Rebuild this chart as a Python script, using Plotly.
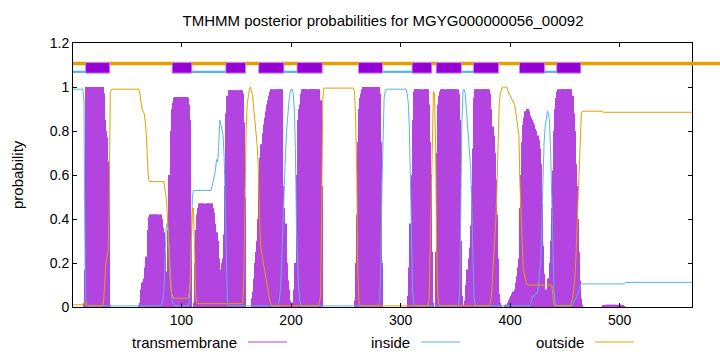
import plotly.graph_objects as go

# ---------------- data (per residue, 1..566) ----------------
title_text = "TMHMM posterior probabilities for MGYG000000056_00092"
seq_len = 566
residues = list(range(1, seq_len + 1))

transmembrane = [
    0, 0, 0, 0, 0, 0, 0, 0, 0, 0,                       # 1-10
    .02, .17, 1, 1, 1, 1, 1, 1, 1, 1,                   # 11-20
    1, 1, 1, 1, 1, 1, 1, 1, .97, .85,                   # 21-30
    .8, .77, .66, .64, .01, 0, 0, 0, 0, 0,              # 31-40
    0, 0, 0, 0, 0, 0, 0, 0, 0, 0,                       # 41-50
    0, 0, 0, 0, 0, 0, 0, 0, 0, 0,                       # 51-60
    .01, .02, .08, .11, .115, .13, .18, .23, .35, .41,  # 61-70
    .42, .42, .42, .42, .42, .42, .42, .42, .42, .42,   # 71-80
    .42, .4, .36, .34, .25, .16, .14, .35, .6, .8,      # 81-90
    .9, .93, .95, .955, .955, .955, .955, .955, .955, .955,  # 91-100
    .955, .955, .955, .955, .955, .95, .92, .85, .3, 0,      # 101-110
    .02, .2, .35, .42, .45, .47, .47, .47, .47, .47,    # 111-120
    .47, .47, .47, .47, .47, .47, .47, .47, .45, .43,   # 121-130
    .38, .34, .3, .22, .13, .17, .2, .22, .33, .55,     # 131-140
    .88, .96, .985, .985, .985, .985, .985, .985, .985, .985,  # 141-150
    .985, .985, .985, .985, .985, .97, .84, .5, 0, 0,   # 151-160
    0, 0, 0, .04, .07, .13, .2, .25, .3, .4,            # 161-170
    .58, .68, .74, .79, .83, .86, .89, .92, .94, .96,   # 171-180
    .98, .99, .99, .99, .99, .99, .99, .99, .99, .99,   # 181-190
    .99, .99, .55, .45, .38, .2, .12, .08, .03, .01,    # 191-200
    0, .02, .08, .2, .6, .85, .9, .92, .97, .99,        # 201-210
    .99, .99, .99, .99, .99, .99, .99, .99, .99, .99,   # 211-220
    .99, .99, .99, .99, .99, .99, .94, .55, 0, 0,       # 221-230
    0, 0, 0, 0, 0, 0, 0, 0, 0, 0,                       # 231-240
    0, 0, 0, 0, 0, 0, 0, 0, 0, 0,                       # 241-250
    0, 0, 0, 0, 0, 0, 0, .03, .2, .42,                  # 251-260
    .75, .9, .95, .97, .99, 1, 1, 1, 1, 1,              # 261-270
    1, 1, 1, 1, 1, 1, 1, 1, 1, 1,                       # 271-280
    .97, .75, .2, 0, 0, 0, 0, 0, 0, 0,                  # 281-290
    0, 0, 0, 0, 0, 0, 0, 0, 0, 0,                       # 291-300
    0, 0, 0, 0, 0, 0, .05, .18, .38, .6,                # 301-310
    .85, .98, .99, .99, .99, .99, .99, .99, .99, .99,   # 311-320
    .99, .99, .99, .99, .99, .92, .75, .6, .25, .02,    # 321-330
    0, .25, .7, .92, .96, .98, .99, .99, .99, .99,      # 331-340
    .99, .99, .99, .99, .99, .99, .99, .99, .99, .99,   # 341-350
    .99, .99, .97, .85, .3, .05, 0, .01, .03, .1,       # 351-360
    .17, .22, .27, .37, .55, .72, .95, .99, .99, .99,   # 361-370
    .99, .99, .99, .99, .99, .99, .99, .99, .99, .99,   # 371-380
    .99, .97, .9, .82, .78, .7, .58, .42, .22, .06,     # 381-390
    .02, .01, 0, 0, .01, .01, .01, .02, .03, .04,       # 391-400
    .05, .06, .07, .08, .11, .14, .18, .22, .45, .6,    # 401-410
    .75, .83, .86, .89, .9, .9, .89, .87, .86, .85,     # 411-420
    .84, .83, .81, .8, .78, .76, .72, .65, .47, .28,    # 421-430
    .15, .08, .04, .08, .13, .2, .3, .45, .62, .8,      # 431-440
    .9, .95, .98, .99, .99, .99, .99, .99, .99, .99,    # 441-450
    .99, .99, .99, .99, .99, .99, .96, .88, .8, .65,    # 451-460
    .55, .4, .25, .12, .04, .01, 0, 0, 0, 0,            # 461-470
    0, 0, 0, 0, 0, 0, 0, 0, 0, 0,                       # 471-480
    0, 0, 0, 0, .005, .008, .01, .01, .01, .01,         # 481-490
    .01, .01, .01, .01, .01, .01, .01, .01, .01, .01,   # 491-500
    .01, .008, .006, .004, 0, 0, 0, 0, 0, 0,            # 501-510
    0, 0, 0, 0, 0, 0, 0, 0, 0, 0,                       # 511-520
    0, 0, 0, 0, 0, 0, 0, 0, 0, 0,                       # 521-530
    0, 0, 0, 0, 0, 0, 0, 0, 0, 0,                       # 531-540
    0, 0, 0, 0, 0, 0, 0, 0, 0, 0,                       # 541-550
    0, 0, 0, 0, 0, 0, 0, 0, 0, 0,                       # 551-560
    0, 0, 0, 0, 0, 0,                                   # 561-566
]

inside = [
    .99, .99, .99, .99, .99, .99, .99, .99, .99, .99,   # 1-10
    .93, .2, .01, .005, .005, .005, .005, .005, .005, .005,  # 11-20
    .005, .005, .005, .005, .005, .005, .005, .005, .005, .005,  # 21-30
    .005, .005, .005, .005, .005, .005, .005, .005, .005, .005,  # 31-40
    .005, .005, .005, .005, .005, .005, .005, .005, .005, .005,  # 41-50
    .005, .005, .005, .005, .005, .005, .005, .005, .005, .005,  # 51-60
    .005, .005, .005, .005, .005, .005, .005, .005, .005, .005,  # 61-70
    .005, .005, .005, .005, .005, .005, .005, .005, .005, .005,  # 71-80
    .005, .01, .03, .08, .2, .36, .38, .35, .25, .12,   # 81-90
    .05, .02, .01, .005, .005, .005, .005, .005, .005, .005,  # 91-100
    .005, .005, .005, .005, .005, .005, .02, .1, .3, .5,      # 101-110
    .53, .53, .53, .53, .53, .53, .53, .53, .53, .53,   # 111-120
    .53, .53, .53, .53, .53, .53, .53, .55, .57, .6,    # 121-130
    .62, .67, .66, .73, .85, .83, .81, .78, .68, .45,   # 131-140
    .12, .01, .005, .005, .005, .005, .005, .005, .005, .005,  # 141-150
    .005, .005, .005, .005, .005, .005, .005, .005, .005, .005,  # 151-160
    .005, .005, .005, .005, .005, .005, .005, .005, .005, .005,  # 161-170
    .005, .005, .005, .005, .005, .005, .005, .005, .005, .005,  # 171-180
    .005, .005, .005, .005, .005, .005, .005, .005, .02, .06,   # 181-190
    .15, .3, .45, .58, .7, .8, .88, .93, .97, .99,      # 191-200
    .99, .97, .9, .72, .35, .18, .08, .03, .01, .005,   # 201-210
    .005, .005, .005, .005, .005, .005, .005, .005, .005, .005,  # 211-220
    .005, .005, .005, .005, .005, .005, .005, .005, .005, .005,  # 221-230
    .005, .005, .005, .005, .005, .005, .005, .005, .005, .005,  # 231-240
    .005, .005, .005, .005, .005, .005, .005, .005, .005, .005,  # 241-250
    .005, .005, .005, .005, .005, .005, .005, .005, .005, .005,  # 251-260
    .005, .005, .005, .005, .005, .005, .005, .005, .005, .005,  # 261-270
    .005, .005, .005, .005, .005, .005, .005, .005, .005, .005,  # 271-280
    .03, .2, .55, .85, .95, .98, .99, .99, .99, .99,    # 281-290
    .99, .99, .99, .99, .99, .99, .99, .99, .99, .99,   # 291-300
    .99, .99, .99, .99, .99, .97, .93, .82, .6, .3,     # 301-310
    .07, .01, .005, .005, .005, .005, .005, .005, .005, .005,  # 311-320
    .005, .005, .005, .005, .005, .005, .005, .005, .005, .005,  # 321-330
    .005, .005, .005, .005, .005, .005, .005, .005, .005, .005,  # 331-340
    .005, .005, .005, .005, .005, .005, .005, .005, .005, .005,  # 341-350
    .005, .005, .005, .08, .6, .85, .98, .99, .97, .9,  # 351-360
    .83, .78, .73, .63, .45, .28, .05, .01, .005, .005,  # 361-370
    .005, .005, .005, .005, .005, .005, .005, .005, .005, .005,  # 371-380
    .005, .005, .005, .005, .005, .005, .005, .005, .005, .005,  # 381-390
    .005, .005, .005, .005, .005, .005, .005, .005, .005, .005,  # 391-400
    .005, .005, .005, .005, .005, .005, .005, .005, .005, .005,  # 401-410
    .005, .005, .005, .005, .005, .005, .005, .01, .02, .04,  # 411-420
    .05, .05, .06, .06, .07, .1, .15, .22, .4, .62,     # 421-430
    .75, .82, .86, .89, .88, .84, .7, .5, .25, .08,     # 431-440
    .02, .005, .005, .005, .005, .005, .005, .005, .005, .005,  # 441-450
    .005, .005, .005, .005, .005, .005, .01, .02, .03, .04,  # 451-460
    .05, .06, .08, .1, .105, .105, .105, .105, .105, .105,  # 461-470
    .105, .105, .105, .105, .105, .105, .105, .105, .105, .105,  # 471-480
    .105, .105, .105, .105, .105, .105, .105, .105, .105, .105,  # 481-490
    .105, .105, .105, .105, .105, .105, .105, .105, .105, .105,  # 491-500
    .105, .105, .105, .105, .112, .112, .112, .112, .112, .112,  # 501-510
    .112, .112, .112, .112, .112, .112, .112, .112, .112, .112,  # 511-520
    .112, .112, .112, .112, .112, .112, .112, .112, .112, .112,  # 521-530
    .112, .112, .112, .112, .112, .112, .112, .112, .112, .112,  # 531-540
    .112, .112, .112, .112, .112, .112, .112, .112, .112, .112,  # 541-550
    .112, .112, .112, .112, .112, .112, .112, .112, .112, .112,  # 551-560
    .112, .112, .112, .112, .112, .112,                 # 561-566
]

outside = [
    .01, .01, .01, .01, .01, .01, .01, .01, .01, .01,   # 1-10
    .02, .02, .005, .005, .005, .005, .005, .005, .005, .005,  # 11-20
    .005, .005, .005, .005, .005, .005, .005, .005, .03, .12,  # 21-30
    .2, .23, .25, .45, .97, .99, .99, .99, .99, .99,    # 31-40
    .99, .99, .99, .99, .99, .99, .99, .99, .99, .99,   # 41-50
    .99, .99, .99, .99, .99, .99, .99, .99, .99, .99,   # 51-60
    .99, .97, .93, .9, .89, .88, .84, .78, .66, .58,    # 61-70
    .57, .57, .57, .57, .57, .57, .57, .57, .57, .57,   # 71-80
    .57, .57, .57, .57, .53, .5, .43, .3, .2, .1,       # 81-90
    .06, .045, .04, .04, .04, .04, .04, .04, .04, .04,  # 91-100
    .04, .04, .04, .04, .04, .04, .06, .12, .3, .45,    # 101-110
    .45, .3, .05, .02, .015, .015, .015, .015, .015, .015,  # 111-120
    .015, .015, .015, .015, .015, .015, .015, .015, .015, .015,  # 121-130
    .015, .015, .015, .015, .015, .015, .015, .015, .015, .015,  # 131-140
    .015, .015, .015, .015, .015, .015, .015, .015, .015, .015,  # 141-150
    .015, .015, .015, .015, .015, .015, .15, .5, .8, .92,  # 151-160
    .97, .99, 1, .98, .96, .9, .85, .78, .74, .65,      # 161-170
    .45, .3, .25, .22, .2, .17, .14, .1, .07, .04,      # 171-180
    .02, .01, .005, .005, .005, .005, .005, .005, .005, .005,  # 181-190
    .005, .005, .005, .005, .005, .005, .005, .005, .005, .005,  # 191-200
    .005, .005, .005, .005, .005, .005, .005, .005, .005, .005,  # 201-210
    .005, .005, .005, .005, .005, .005, .005, .005, .005, .005,  # 211-220
    .005, .005, .005, .005, .005, .02, .06, .45, .95, .995,  # 221-230
    .995, .995, .995, .995, .995, .995, .995, .995, .995, .995,  # 231-240
    .995, .995, .995, .995, .995, .995, .995, .995, .995, .995,  # 241-250
    .995, .995, .995, .995, .995, .995, .995, .98, .85, .6,  # 251-260
    .15, .03, .01, .005, .005, .005, .005, .005, .005, .005,  # 261-270
    .005, .005, .005, .005, .005, .005, .005, .005, .005, .005,  # 271-280
    .005, .005, .005, .005, .005, .005, .005, .005, .005, .005,  # 281-290
    .005, .005, .005, .005, .005, .005, .005, .005, .005, .005,  # 291-300
    .005, .005, .005, .005, .005, .005, .005, .005, .005, .005,  # 301-310
    .005, .005, .005, .005, .005, .005, .005, .005, .005, .005,  # 311-320
    .005, .005, .005, .005, .005, .03, .25, .4, .75, .98,  # 321-330
    .97, .73, .25, .05, .01, .005, .005, .005, .005, .005,  # 331-340
    .005, .005, .005, .005, .005, .005, .005, .005, .005, .005,  # 341-350
    .005, .005, .005, .005, .005, .005, .005, .005, .005, .005,  # 351-360
    .005, .005, .005, .005, .005, .005, .005, .005, .005, .005,  # 361-370
    .005, .005, .005, .005, .005, .005, .005, .005, .005, .005,  # 371-380
    .005, .02, .05, .15, .22, .3, .4, .55, .75, .92,    # 381-390
    .97, .99, 1, 1, 1, 1, 1, .98, .97, .96,             # 391-400
    .95, .94, .93, .92, .89, .86, .82, .78, .55, .4,    # 401-410
    .25, .17, .15, .12, .105, .1, .1, .1, .1, .1,       # 411-420
    .1, .1, .1, .1, .1, .1, .1, .1, .1, .1,             # 421-430
    .1, .1, .1, .1, .1, .1, .1, .1, .05, .01,           # 431-440
    .005, .005, .005, .005, .005, .005, .005, .005, .005, .005,  # 441-450
    .005, .005, .005, .005, .005, .02, .04, .08, .12, .22,  # 451-460
    .35, .5, .65, .8, .88, .89, .89, .89, .89, .89,     # 461-470
    .89, .89, .89, .89, .89, .89, .89, .89, .89, .89,   # 471-480
    .89, .89, .89, .89, .885, .885, .885, .885, .885, .885,  # 481-490
    .885, .885, .885, .885, .885, .885, .885, .885, .885, .885,  # 491-500
    .885, .885, .885, .885, .885, .885, .885, .885, .885, .885,  # 501-510
    .885, .885, .885, .885, .885, .885, .885, .885, .885, .885,  # 511-520
    .885, .885, .885, .885, .885, .885, .885, .885, .885, .885,  # 521-530
    .885, .885, .885, .885, .885, .885, .885, .885, .885, .885,  # 531-540
    .885, .885, .885, .885, .885, .885, .885, .885, .885, .885,  # 541-550
    .885, .885, .885, .885, .885, .885, .885, .885, .885, .885,  # 551-560
    .885, .885, .885, .885, .885, .885,                 # 561-566
]

# predicted topology (residue ranges)
inside_segments = [(1, 12), (110, 140), (194, 205), (284, 310), (356, 366), (432, 442)]
tm_segments = [(13, 34), (92, 109), (141, 158), (171, 193), (206, 228), (262, 283),
               (311, 328), (333, 355), (367, 389), (409, 431), (443, 464)]

x_tick_vals = [100, 200, 300, 400, 500]
y_tick_vals = [0, 0.2, 0.4, 0.6, 0.8, 1.0, 1.2]
y_tick_text = ["0", "0.2", "0.4", "0.6", "0.8", "1", "1.2"]
legend_names = ["transmembrane", "inside", "outside"]

assert len(transmembrane) == seq_len and len(inside) == seq_len and len(outside) == seq_len

# ---------------- styling ----------------
C_TM = "#9400d3"
C_TM_IMP = "#b344df"
C_IN = "#56b4e9"
C_OUT = "#e69f00"
FONT = "Liberation Sans"

TOPO_OUT_Y = 1.107
IN_LO, IN_HI = 1.064, 1.074
BOX_LO, BOX_HI = 1.063, 1.111

W, H = 720, 352
ML, MR, MT, MB = 73, 28, 43, 45
PW, PH = W - ML - MR, H - MT - MB


def px_x(px):
    return (px - ML) / PW


def px_y(py):
    return (H - MB - py) / PH


fig = go.Figure()

# posterior probabilities
fig.add_trace(go.Bar(x=residues, y=transmembrane, marker=dict(color=C_TM_IMP, line=dict(width=0)),
                     name=legend_names[0], showlegend=False))
fig.add_trace(go.Scatter(x=residues, y=inside, mode="lines", line=dict(color=C_IN, width=1),
                         name=legend_names[1], showlegend=False))
fig.add_trace(go.Scatter(x=residues, y=outside, mode="lines", line=dict(color=C_OUT, width=1),
                         name=legend_names[2], showlegend=False))

shapes = [
    # outside topology line (drawn unclipped, like the original)
    dict(type="line", xref="paper", yref="y", x0=0, x1=1.1, y0=TOPO_OUT_Y, y1=TOPO_OUT_Y,
         line=dict(color=C_OUT, width=3.5), layer="above"),
]
# topology: inside segments
for a, b in inside_segments:
    shapes.append(dict(type="rect", xref="x", yref="y", x0=max(a - 0.5, 1), x1=b + 0.5,
                       y0=IN_LO, y1=IN_HI, fillcolor=C_IN, line=dict(width=0), layer="above"))
# topology: TM boxes
for a, b in tm_segments:
    shapes.append(dict(type="rect", xref="x", yref="y", x0=a - 0.5, x1=b + 0.5,
                       y0=BOX_LO, y1=BOX_HI, fillcolor=C_TM,
                       line=dict(color="#c58ae8", width=1), layer="above"))

# custom gnuplot-like legend (text right-aligned, sample line after)
legend_y = px_y(342)
leg_text_right = [239, 412, 586]
leg_colors = [C_TM_IMP, C_IN, C_OUT]
annotations = []
for name, xr, col in zip(legend_names, leg_text_right, leg_colors):
    annotations.append(dict(text=name, x=px_x(xr), y=legend_y, xref="paper", yref="paper",
                            xanchor="right", yanchor="middle", showarrow=False,
                            font=dict(family=FONT, size=15, color="black")))
    shapes.append(dict(type="line", xref="paper", yref="paper",
                       x0=px_x(xr + 9), x1=px_x(xr + 48), y0=legend_y, y1=legend_y,
                       line=dict(color=col, width=1)))

annotations.append(dict(text="probability", x=px_x(17), y=0.5, xref="paper", yref="paper",
                        textangle=-90, xanchor="center", yanchor="middle", showarrow=False,
                        font=dict(family=FONT, size=15, color="black")))

fig.update_layout(
    width=W, height=H,
    margin=dict(l=ML, r=MR, t=MT, b=MB, pad=0),
    paper_bgcolor="white", plot_bgcolor="white",
    barmode="overlay", bargap=0.1,
    showlegend=False,
    title=dict(text=title_text, x=px_x(383), xref="paper", xanchor="center",
               y=1 - 21 / H, yref="container", yanchor="middle",
               font=dict(family=FONT, size=15, color="black")),
    font=dict(family=FONT, size=14, color="black"),
    shapes=shapes,
    annotations=annotations,
)
fig.update_xaxes(range=[1, seq_len], tickvals=x_tick_vals, ticks="inside", ticklen=4,
                 tickcolor="black", showline=True, linecolor="black", linewidth=1,
                 mirror="allticks", showgrid=False, zeroline=False,
                 tickfont=dict(family=FONT, size=14))
fig.update_yaxes(range=[0, 1.2], tickvals=y_tick_vals, ticktext=y_tick_text, ticks="inside",
                 ticklen=4, tickcolor="black", showline=True, linecolor="black", linewidth=1,
                 mirror="allticks", showgrid=False, zeroline=False,
                 tickfont=dict(family=FONT, size=14))

fig.write_html("out.html")
